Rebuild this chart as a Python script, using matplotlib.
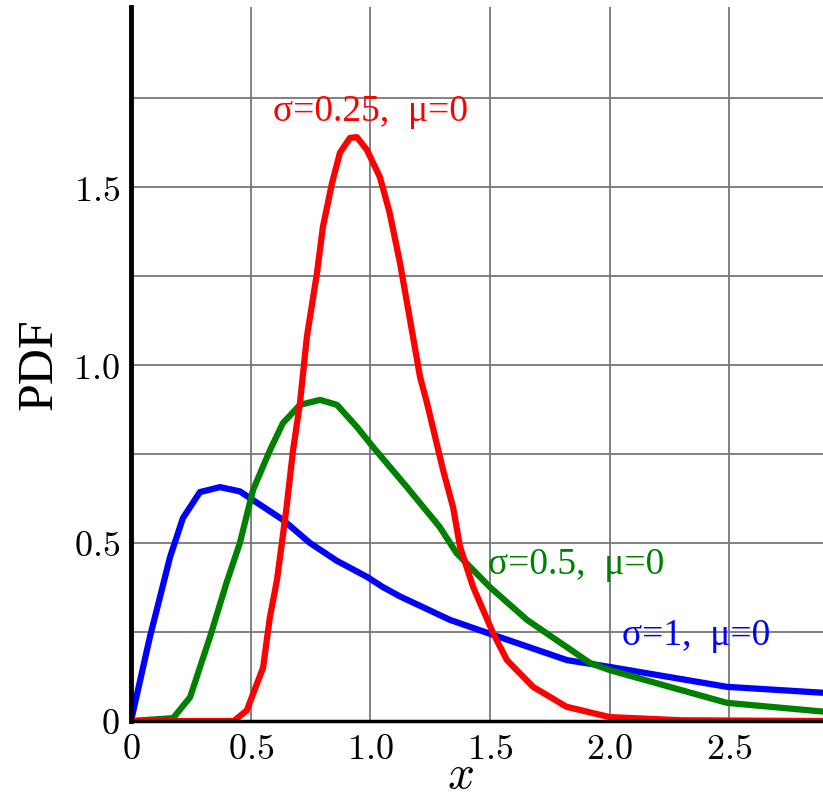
import matplotlib
matplotlib.use("Agg")
import matplotlib.pyplot as plt

plt.rcParams['mathtext.fontset'] = 'cm'

# sigma = 1, mu = 0 (blue)
x_s1 = [0.0, 0.079, 0.163, 0.217, 0.288, 0.372, 0.455, 0.635, 0.748, 0.86, 0.986, 1.053,
        1.124, 1.333, 1.513, 1.822, 2.0, 2.49, 2.9]
y_s1 = [0.0, 0.236, 0.46, 0.57, 0.643, 0.657, 0.645, 0.565, 0.50, 0.45, 0.405, 0.376,
        0.35, 0.284, 0.242, 0.171, 0.152, 0.096, 0.079]

# sigma = 0.5, mu = 0 (green)
x_s05 = [0.0, 0.176, 0.247, 0.33, 0.40, 0.455, 0.51, 0.581, 0.635, 0.706, 0.79, 0.861,
         0.944, 1.011, 1.153, 1.29, 1.36, 1.5, 1.655, 1.918, 2.0, 2.49, 2.9]
y_s05 = [0.0, 0.008, 0.067, 0.236, 0.39, 0.50, 0.649, 0.761, 0.837, 0.888, 0.902, 0.888,
         0.826, 0.77, 0.657, 0.545, 0.472, 0.376, 0.284, 0.163, 0.143, 0.051, 0.026]

# sigma = 0.25, mu = 0 (red)
x_s025 = [0.0, 0.43, 0.484, 0.552, 0.58, 0.61, 0.65, 0.677, 0.706, 0.735, 0.777, 0.802,
          0.84, 0.873, 0.915, 0.944, 0.986, 1.04, 1.08, 1.124, 1.208, 1.237, 1.304, 1.346,
          1.375, 1.43, 1.513, 1.571, 1.68, 1.82, 2.0, 2.3, 2.9]
y_s025 = [0.0, 0.0, 0.03, 0.15, 0.29, 0.396, 0.60, 0.76, 0.893, 1.079, 1.258, 1.388,
          1.511, 1.596, 1.638, 1.64, 1.604, 1.528, 1.43, 1.287, 0.966, 0.893, 0.705, 0.60,
          0.489, 0.376, 0.247, 0.171, 0.096, 0.04, 0.011, 0.002, 0.0]

x_ticks = [0, 0.5, 1.0, 1.5, 2.0, 2.5]
x_tick_labels = ['0', '0.5', '1.0', '1.5', '2.0', '2.5']
y_ticks = [0, 0.5, 1.0, 1.5]
y_tick_labels = ['0', '0.5', '1.0', '1.5']
y_minor = [0.25, 0.75, 1.25, 1.75]

fig = plt.figure(figsize=(8.23, 7.97), dpi=100)
ax = fig.add_axes([131/823, 76/797, 1 - 131/823, (721 - 7)/797])
ax.set_xlim(0, (823 - 131)/239.3)
ax.set_ylim(0, (721 - 7)/356)

lw = 4.5
ax.plot(x_s1, y_s1, color='#0000ff', lw=lw, solid_joinstyle='round', solid_capstyle='round', zorder=3)
ax.plot(x_s05, y_s05, color='#008000', lw=lw, solid_joinstyle='round', solid_capstyle='round', zorder=3)
ax.plot(x_s025, y_s025, color='#ff0000', lw=lw, solid_joinstyle='round', solid_capstyle='round', zorder=4)

ax.set_xticks(x_ticks)
ax.set_xticklabels(['$' + t + '$' for t in x_tick_labels])
ax.set_yticks(y_ticks)
ax.set_yticklabels(['$' + t + '$' for t in y_tick_labels])
ax.set_yticks(y_minor, minor=True)
ax.tick_params(axis='both', which='both', length=0, labelsize=26, pad=8)
ax.grid(True, which='both', color='#777777', lw=1.3)
ax.set_axisbelow(True)

for s in ['top', 'right']:
    ax.spines[s].set_visible(False)
ax.spines['left'].set_linewidth(3.5)
ax.spines['bottom'].set_linewidth(2.5)
ax.spines['left'].set_zorder(5)
ax.spines['bottom'].set_zorder(5)

ax.set_ylabel('PDF', family='Liberation Serif', fontsize=36, labelpad=8)
ax.set_xlabel('$x$', fontsize=34)
ax.xaxis.set_label_coords((460 - 131)/692, -0.045)

tf = dict(family='Liberation Serif', fontsize=27)
ax.text(1.0, 1.71, 'σ=0.25,  μ=0', color='#ff0000', ha='center', va='center', **tf)
ax.text(1.49, 0.44, 'σ=0.5,  μ=0', color='#008000', ha='left', va='center', **tf)
ax.text(2.05, 0.24, 'σ=1,  μ=0', color='#0000ff', ha='left', va='center', **tf)

fig.savefig('out.png', dpi=100)
